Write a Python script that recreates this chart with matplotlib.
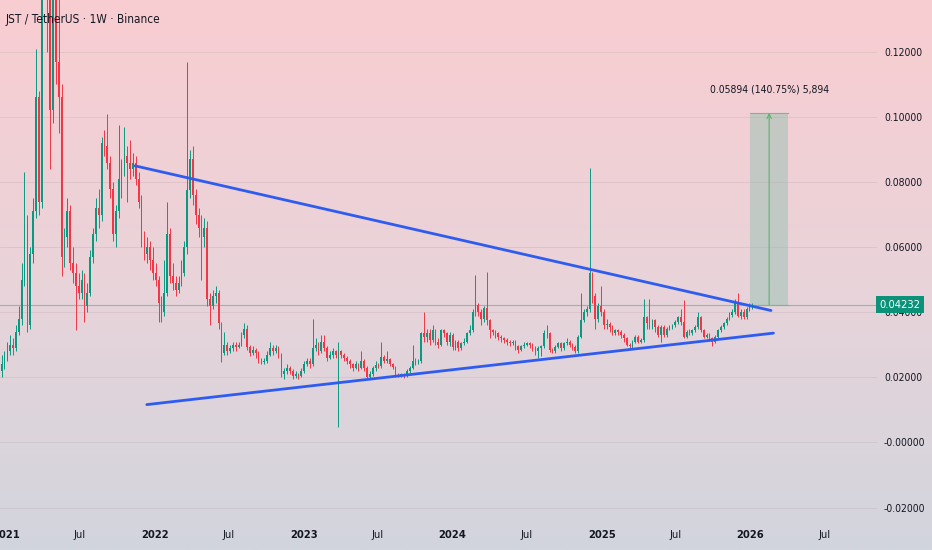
import numpy as np
import pandas as pd
import matplotlib
matplotlib.use("Agg")
import matplotlib.pyplot as plt
import matplotlib.dates as mdates
from matplotlib.colors import LinearSegmentedColormap
from matplotlib.patches import Rectangle

# a narrow face is closest to the TradingView look
plt.rcParams['font.family'] = ['DejaVu Sans']
plt.rcParams['font.stretch'] = 'condensed'

# ---- weekly candles (open = previous close) ----
first_week = "2020-12-21"
first_open = 0.022
closes = [
    0.024, 0.026, 0.028, 0.030, 0.029, 0.034, 0.038, 0.050, 0.067, 0.036,
    0.058, 0.071, 0.106, 0.074, 0.150, 0.180, 0.150, 0.102, 0.150, 0.117,
    0.106, 0.057, 0.063, 0.071, 0.055, 0.052, 0.048, 0.046, 0.050, 0.042,
    0.046, 0.057, 0.064, 0.072, 0.070, 0.092, 0.091, 0.086, 0.078, 0.064,
    0.071, 0.081, 0.084, 0.088, 0.086, 0.084, 0.086, 0.081, 0.074, 0.062,
    0.058, 0.060, 0.056, 0.052, 0.050, 0.043, 0.040, 0.046, 0.064, 0.051,
    0.049, 0.047, 0.049, 0.052, 0.060, 0.0775, 0.087, 0.076, 0.070, 0.066,
    0.063, 0.066, 0.044, 0.042, 0.045, 0.046, 0.0366, 0.0274, 0.030, 0.028,
    0.029, 0.030, 0.0294, 0.030, 0.033, 0.035, 0.0294, 0.0274, 0.0284, 0.0274,
    0.025, 0.0248, 0.025, 0.027, 0.029, 0.028, 0.029, 0.027, 0.021, 0.022,
    0.023, 0.022, 0.0205, 0.021, 0.0205, 0.022, 0.024, 0.025, 0.024, 0.029,
    0.030, 0.028, 0.031, 0.029, 0.026, 0.027, 0.028, 0.027, 0.028, 0.027,
    0.026, 0.025, 0.024, 0.023, 0.024, 0.023, 0.025, 0.023, 0.020, 0.021,
    0.0228, 0.0238, 0.0235, 0.0264, 0.025, 0.0255, 0.024, 0.0232, 0.0207, 0.0205,
    0.021, 0.0205, 0.022, 0.023, 0.025, 0.0245, 0.025, 0.0335, 0.0325, 0.0335,
    0.0315, 0.0346, 0.031, 0.030, 0.0346, 0.0335, 0.031, 0.033, 0.0292, 0.031,
    0.029, 0.0305, 0.031, 0.0335, 0.0346, 0.040, 0.0422, 0.040, 0.038, 0.0412,
    0.0376, 0.0346, 0.034, 0.0335, 0.0325, 0.032, 0.0315, 0.031, 0.0305, 0.031,
    0.0295, 0.0285, 0.0295, 0.030, 0.0305, 0.030, 0.029, 0.028, 0.029, 0.0295,
    0.0335, 0.0335, 0.0284, 0.028, 0.0294, 0.0305, 0.029, 0.0305, 0.031, 0.030,
    0.0294, 0.028, 0.0325, 0.0375, 0.040, 0.041, 0.052, 0.045, 0.038, 0.042,
    0.040, 0.036, 0.0365, 0.0355, 0.0335, 0.0345, 0.034, 0.033, 0.032, 0.030,
    0.0295, 0.031, 0.0325, 0.031, 0.0315, 0.0385, 0.0366, 0.0356, 0.0375, 0.0356,
    0.033, 0.0356, 0.033, 0.035, 0.0356, 0.036, 0.037, 0.0385, 0.037, 0.0325,
    0.034, 0.0335, 0.0346, 0.0356, 0.0387, 0.0346, 0.0325, 0.033, 0.032, 0.031,
    0.0325, 0.0346, 0.0356, 0.0366, 0.038, 0.0392, 0.040, 0.0428, 0.039, 0.040,
    0.0387, 0.041, 0.0418, 0.04232,
]
highs = [
    0.027, 0.028, 0.031, 0.033, 0.032, 0.036, 0.042, 0.055, 0.083, 0.070,
    0.060, 0.075, 0.121, 0.108, 0.165, 0.195, 0.185, 0.160, 0.170, 0.160,
    0.140, 0.110, 0.066, 0.075, 0.073, 0.060, 0.055, 0.052, 0.053, 0.052,
    0.049, 0.059, 0.066, 0.075, 0.078, 0.094, 0.096, 0.101, 0.088, 0.080,
    0.073, 0.0975, 0.087, 0.097, 0.091, 0.093, 0.089, 0.088, 0.083, 0.076,
    0.065, 0.063, 0.062, 0.060, 0.055, 0.051, 0.045, 0.056, 0.074, 0.066,
    0.055, 0.051, 0.051, 0.056, 0.062, 0.117, 0.090, 0.091, 0.078, 0.072,
    0.070, 0.069, 0.068, 0.046, 0.047, 0.048, 0.047, 0.037, 0.034, 0.031,
    0.030, 0.031, 0.031, 0.031, 0.034, 0.0366, 0.036, 0.030, 0.0295, 0.029,
    0.028, 0.026, 0.026, 0.028, 0.031, 0.030, 0.030, 0.0295, 0.0275, 0.023,
    0.024, 0.0235, 0.0225, 0.022, 0.0215, 0.023, 0.025, 0.026, 0.026, 0.038,
    0.032, 0.031, 0.033, 0.033, 0.0295, 0.028, 0.029, 0.0285, 0.031, 0.0285,
    0.0275, 0.0265, 0.0255, 0.0245, 0.025, 0.0245, 0.028, 0.0255, 0.0235, 0.022,
    0.0235, 0.025, 0.0245, 0.031, 0.027, 0.028, 0.026, 0.0245, 0.0235, 0.0215,
    0.0215, 0.0215, 0.0225, 0.0235, 0.030, 0.026, 0.0255, 0.034, 0.040, 0.035,
    0.035, 0.036, 0.035, 0.032, 0.035, 0.035, 0.034, 0.034, 0.0335, 0.0315,
    0.0315, 0.031, 0.032, 0.034, 0.036, 0.041, 0.0515, 0.043, 0.041, 0.042,
    0.0524, 0.038, 0.035, 0.0345, 0.034, 0.033, 0.0325, 0.032, 0.0315, 0.0315,
    0.0315, 0.030, 0.030, 0.031, 0.031, 0.031, 0.0305, 0.0295, 0.0295, 0.030,
    0.0345, 0.036, 0.034, 0.029, 0.030, 0.031, 0.031, 0.031, 0.032, 0.0315,
    0.0305, 0.030, 0.033, 0.046, 0.041, 0.042, 0.0843, 0.0525, 0.046, 0.043,
    0.048, 0.041, 0.038, 0.037, 0.036, 0.035, 0.035, 0.0345, 0.0335, 0.0325,
    0.0305, 0.0315, 0.033, 0.033, 0.032, 0.044, 0.039, 0.044, 0.038, 0.038,
    0.036, 0.036, 0.036, 0.0355, 0.036, 0.0365, 0.0375, 0.039, 0.041, 0.0437,
    0.0345, 0.035, 0.035, 0.036, 0.040, 0.039, 0.035, 0.0335, 0.0335, 0.0325,
    0.033, 0.035, 0.036, 0.037, 0.0385, 0.040, 0.041, 0.044, 0.046, 0.041,
    0.041, 0.0415, 0.043, 0.043,
]
lows = [
    0.020, 0.0225, 0.025, 0.027, 0.027, 0.028, 0.033, 0.036, 0.048, 0.034,
    0.035, 0.055, 0.069, 0.070, 0.072, 0.140, 0.120, 0.084, 0.098, 0.110,
    0.095, 0.051, 0.054, 0.060, 0.053, 0.049, 0.0346, 0.044, 0.044, 0.037,
    0.040, 0.045, 0.055, 0.062, 0.066, 0.068, 0.088, 0.084, 0.075, 0.062,
    0.060, 0.069, 0.075, 0.082, 0.074, 0.081, 0.082, 0.079, 0.072, 0.060,
    0.056, 0.055, 0.053, 0.050, 0.048, 0.037, 0.037, 0.039, 0.045, 0.049,
    0.047, 0.045, 0.046, 0.048, 0.051, 0.058, 0.075, 0.073, 0.067, 0.063,
    0.050, 0.060, 0.042, 0.036, 0.041, 0.043, 0.035, 0.0248, 0.027, 0.027,
    0.0275, 0.028, 0.028, 0.029, 0.0295, 0.032, 0.0285, 0.0265, 0.027, 0.026,
    0.0245, 0.024, 0.024, 0.0245, 0.0265, 0.027, 0.0275, 0.026, 0.020, 0.0195,
    0.021, 0.021, 0.0195, 0.0198, 0.0195, 0.020, 0.0215, 0.0235, 0.023, 0.0235,
    0.028, 0.027, 0.0275, 0.028, 0.025, 0.0255, 0.026, 0.026, 0.0048, 0.026,
    0.025, 0.024, 0.023, 0.022, 0.0225, 0.022, 0.0225, 0.022, 0.0195, 0.0195,
    0.0205, 0.022, 0.0228, 0.023, 0.0245, 0.0245, 0.0235, 0.0225, 0.020, 0.020,
    0.020, 0.0198, 0.020, 0.0215, 0.0225, 0.0238, 0.024, 0.0245, 0.031, 0.031,
    0.030, 0.031, 0.030, 0.029, 0.0295, 0.0325, 0.030, 0.0295, 0.0285, 0.0285,
    0.028, 0.0285, 0.030, 0.0305, 0.033, 0.034, 0.039, 0.039, 0.036, 0.037,
    0.036, 0.032, 0.033, 0.032, 0.0315, 0.031, 0.0305, 0.030, 0.0295, 0.0298,
    0.0285, 0.0275, 0.028, 0.029, 0.0295, 0.029, 0.028, 0.027, 0.026, 0.0265,
    0.029, 0.032, 0.0278, 0.0275, 0.0275, 0.029, 0.028, 0.0285, 0.030, 0.0292,
    0.0285, 0.0275, 0.0275, 0.032, 0.037, 0.039, 0.040, 0.043, 0.035, 0.037,
    0.039, 0.035, 0.035, 0.034, 0.033, 0.033, 0.033, 0.0322, 0.031, 0.0295,
    0.029, 0.029, 0.0305, 0.0305, 0.0305, 0.031, 0.035, 0.035, 0.035, 0.034,
    0.0325, 0.031, 0.0325, 0.0325, 0.0345, 0.035, 0.0355, 0.0365, 0.036, 0.032,
    0.032, 0.033, 0.033, 0.034, 0.035, 0.034, 0.032, 0.032, 0.0312, 0.0295,
    0.0305, 0.032, 0.034, 0.035, 0.036, 0.0375, 0.0385, 0.0395, 0.0385, 0.038,
    0.038, 0.038, 0.0405, 0.041,
]

# ---- axes labels ----
y_ticks = [-0.02, 0.0, 0.02, 0.04, 0.06, 0.08, 0.10, 0.12]
y_tick_labels = ["-0.02000", "-0.00000", "0.02000", "0.04000",
                 "0.06000", "0.08000", "0.10000", "0.12000"]
x_tick_dates = ["2021-01-01", "2021-07-01", "2022-01-01", "2022-07-01",
                "2023-01-01", "2023-07-01", "2024-01-01", "2024-07-01",
                "2025-01-01", "2025-07-01", "2026-01-01", "2026-07-01"]
x_tick_labels = ["2021", "Jul", "2022", "Jul", "2023", "Jul",
                 "2024", "Jul", "2025", "Jul", "2026", "Jul"]

# ---- drawings ----
upper_line_dates = ["2021-11-13", "2026-02-20"]
upper_line_prices = [0.0850, 0.04055]
lower_line_dates = ["2021-12-12", "2026-02-26"]
lower_line_prices = [0.01164, 0.0336]

last_price = 0.04232
range_dates = ["2025-12-31", "2026-04-03"]
range_prices = [0.04232, 0.10126]
range_text = "0.05894 (140.75%) 5,894"
title = "JST / TetherUS · 1W · Binance"

GREEN = "#089981"
RED = "#f23645"
BLUE = "#2f5cf0"
TXT = "#131722"

dates = pd.date_range(first_week, periods=len(closes), freq="7D")
x = mdates.date2num(dates)
c = np.array(closes)
o = np.r_[first_open, c[:-1]]
h = np.array(highs)
l = np.array(lows)
col = np.where(c >= o, GREEN, RED)

fig = plt.figure(figsize=(9.32, 5.5), dpi=100)

# background gradient
bg = fig.add_axes([0, 0, 1, 1], zorder=-10)
grad = np.linspace(0, 1, 256).reshape(-1, 1)
cmap = LinearSegmentedColormap.from_list("bg", ["#f9cdd1", "#e9d3d9", "#d2d5de"])
bg.imshow(grad, aspect="auto", cmap=cmap, extent=[0, 1, 0, 1], origin="upper")
bg.axis("off")

ax = fig.add_axes([0, 30 / 550, 877 / 932, 520 / 550])
ax.patch.set_alpha(0)
for s in ax.spines.values():
    s.set_visible(False)

ax.set_xlim(mdates.datestr2num("2020-12-17"), mdates.datestr2num("2026-11-07"))
ax.set_ylim(-0.02381, 0.13594)

ax.set_yticks(y_ticks)
ax.set_yticklabels(y_tick_labels)
ax.yaxis.tick_right()
ax.set_xticks(mdates.datestr2num(x_tick_dates))
ax.set_xticklabels(x_tick_labels)
ax.tick_params(axis="y", length=0, pad=5, labelsize=7.5, colors=TXT)
ax.tick_params(axis="x", length=0, pad=7, labelsize=8, colors=TXT)
for lbl in ax.get_xticklabels():
    if lbl.get_text() != "Jul":
        lbl.set_fontweight("bold")
ax.grid(axis="y", color="#b9a9b0", alpha=0.35, lw=0.6)

# candles
ax.vlines(x, l, h, colors=col, lw=0.7, zorder=2)
ax.bar(x, c - o, bottom=o, width=4.0, color=col, lw=0, zorder=3)

# current price line
ax.axhline(last_price, color="#3fa98a", lw=0.8, alpha=0.55, zorder=1)

# triangle
ax.plot(mdates.datestr2num(upper_line_dates), upper_line_prices, color=BLUE,
        lw=2.0, solid_capstyle="round", zorder=4)
ax.plot(mdates.datestr2num(lower_line_dates), lower_line_prices, color=BLUE,
        lw=2.0, solid_capstyle="round", zorder=4)

# price range tool
rx = mdates.datestr2num(range_dates)
ax.add_patch(Rectangle((rx[0], range_prices[0]), rx[1] - rx[0],
                       range_prices[1] - range_prices[0],
                       facecolor="#98c2b4", alpha=0.5, lw=0, zorder=1.5))
ax.plot(rx, [range_prices[1]] * 2, color="#6fbf7f", lw=0.8, zorder=2)
ax.plot(rx, [range_prices[0]] * 2, color="#6fbf7f", lw=0.8, zorder=2)
xm = rx.mean()
ax.annotate("", xy=(xm, range_prices[1]), xytext=(xm, range_prices[0]),
            arrowprops=dict(arrowstyle="->", color="#5cb36c", lw=0.8,
                            shrinkA=0, shrinkB=0, mutation_scale=8), zorder=2)
ax.text(xm, range_prices[1] + 0.0055, range_text, ha="center", va="bottom",
        fontsize=7.5, color=TXT)

# last price tag on the axis
ax.text(1.003, last_price, f"{last_price:.5f}", transform=ax.get_yaxis_transform(),
        ha="left", va="center", fontsize=8, color="white", zorder=10,
        bbox=dict(boxstyle="square,pad=0.3", fc="#0b9279", ec="none"), clip_on=False)

fig.text(6 / 932, 1 - 19 / 550, title, ha="left", va="center", fontsize=8.5, color=TXT)

fig.savefig("out.png", dpi=100)
